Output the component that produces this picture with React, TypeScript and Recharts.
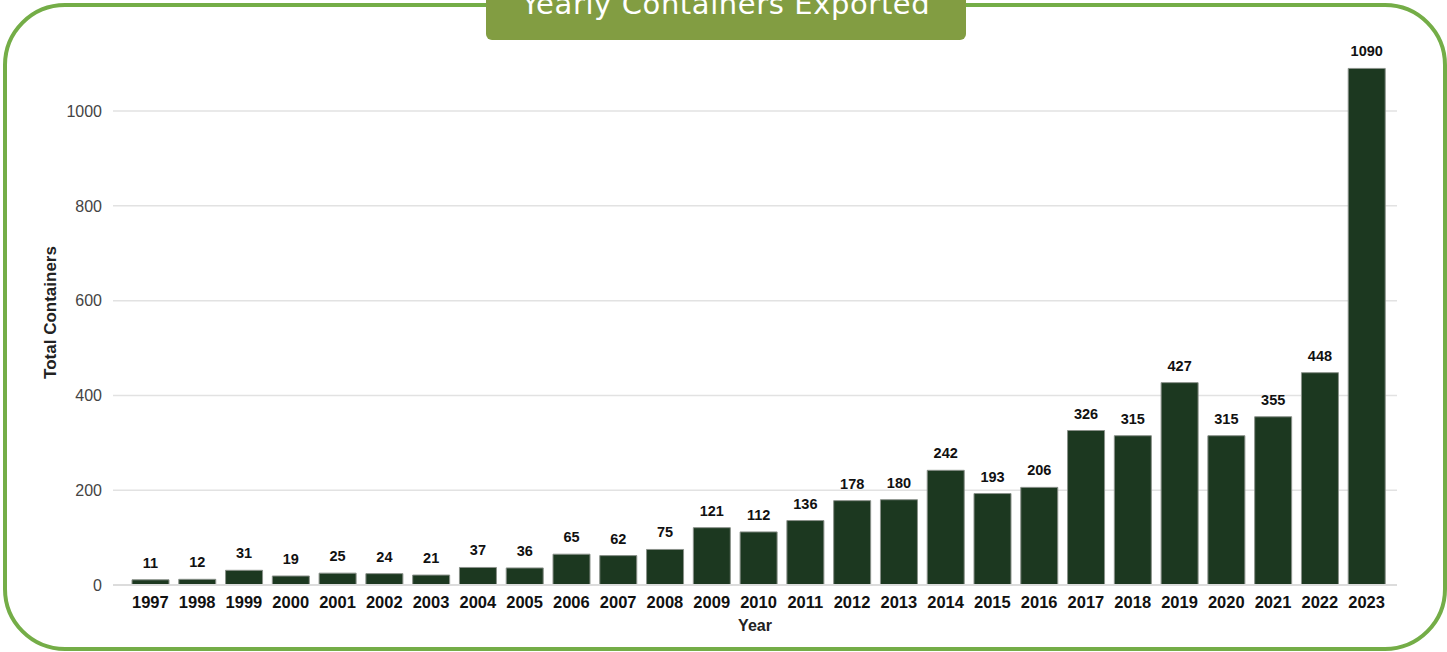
import React from "react";
import { Bar, BarChart, CartesianGrid, LabelList, XAxis, YAxis } from "recharts";

const years = [
  "1997", "1998", "1999", "2000", "2001", "2002", "2003", "2004", "2005",
  "2006", "2007", "2008", "2009", "2010", "2011", "2012", "2013", "2014",
  "2015", "2016", "2017", "2018", "2019", "2020", "2021", "2022", "2023",
];
const containers = [
  11, 12, 31, 19, 25, 24, 21, 37, 36, 65, 62, 75, 121, 112, 136, 178, 180,
  242, 193, 206, 326, 315, 427, 315, 355, 448, 1090,
];
const yTicks = [0, 200, 400, 600, 800, 1000];

const data = years.map((y, i) => ({ year: y, total: containers[i] }));

const labelFont = "'Liberation Sans', Arial, sans-serif";

export default function App() {
  return (
    <div
      style={{
        position: "absolute",
        left: 0,
        top: 0,
        width: 1447,
        height: 652,
        overflow: "hidden",
        background: "#fff",
      }}
    >
      {/* green frame */}
      <div
        style={{
          position: "absolute",
          left: 3,
          top: 3,
          width: 1444,
          height: 648,
          boxSizing: "border-box",
          border: "4.5px solid #74ad47",
          borderRadius: 62,
        }}
      />
      {/* title tab */}
      <div
        style={{
          position: "absolute",
          left: 486,
          top: -10,
          width: 480,
          height: 50,
          background: "#829d42",
          borderRadius: 6,
        }}
      />
      <div
        style={{
          position: "absolute",
          left: 486,
          top: -10,
          width: 480,
          textAlign: "center",
          color: "#fff",
          fontFamily: "'DejaVu Sans', Verdana, sans-serif",
          fontSize: 29,
          lineHeight: "29px",
          letterSpacing: 0.6,
          whiteSpace: "nowrap",
        }}
      >
        Yearly Containers Exported
      </div>
      <div style={{ position: "absolute", left: 0, top: 0 }}>
        <BarChart
          width={1447}
          height={652}
          data={data}
          margin={{ top: 40, right: 50, bottom: 37, left: 0 }}
        >
          <CartesianGrid
            vertical={false}
            horizontalValues={yTicks}
            stroke="#e2e2e2"
            strokeWidth={1.5}
          />
          <XAxis
            dataKey="year"
            axisLine={{ stroke: "#dcdcdc", strokeWidth: 2 }}
            tickLine={false}
            tickMargin={5}
            padding={{ left: 14, right: 7 }}
            interval={0}
            height={30}
            tick={{ fill: "#111", fontFamily: labelFont, fontWeight: 700, fontSize: 16.5 }}
            label={{
              value: "Year",
              position: "bottom",
              offset: 5,
              fill: "#222",
              fontFamily: labelFont,
              fontWeight: 700,
              fontSize: 16,
            }}
          />
          <YAxis
            width={113}
            domain={[0, 1150]}
            ticks={yTicks}
            axisLine={false}
            tickLine={false}
            tickMargin={5}
            tick={{ fill: "#444", fontFamily: labelFont, fontSize: 16 }}
            label={{
              value: "Total Containers",
              angle: -90,
              position: "insideLeft",
              offset: 50,
              style: { textAnchor: "middle" },
              fill: "#222",
              fontFamily: labelFont,
              fontWeight: 700,
              fontSize: 17,
            }}
          />
          <Bar
            dataKey="total"
            fill="#1c3820"
            stroke="#8a918a"
            strokeWidth={1}
            barSize={37}
            isAnimationActive={false}
          >
            <LabelList
              dataKey="total"
              position="top"
              offset={12}
              fill="#111"
              fontFamily={labelFont}
              fontWeight={700}
              fontSize={14.5}
            />
          </Bar>
        </BarChart>
      </div>
    </div>
  );
}
